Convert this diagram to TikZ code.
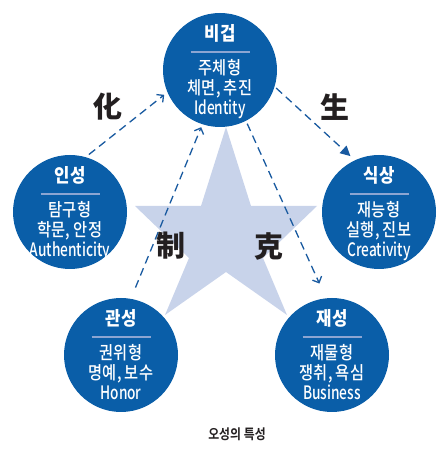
\documentclass[tikz,border=0pt]{standalone}
\usepackage{fontspec}
\setmainfont{Noto Sans CJK KR}[FakeStretch=0.85, UprightFont=* Medium, BoldFont=* Bold]
\newfontfamily\titlefont{Noto Sans CJK KR Black}[FakeStretch=0.88]
\newfontfamily\latinfont{Noto Sans CJK KR Medium}[FakeStretch=0.74]
\newfontfamily\hanjafont{Noto Sans CJK KR Black}
\usetikzlibrary{arrows.meta}

\definecolor{ohblue}{RGB}{10,94,168}
\definecolor{ohline}{RGB}{25,90,160}
\definecolor{ohstar}{RGB}{200,211,234}
\definecolor{ohsep}{RGB}{140,165,210}
\definecolor{ohdark}{RGB}{35,31,32}

\begin{document}
\begin{tikzpicture}[x=1pt, y=1pt,
    element/.style={circle, fill=ohblue, minimum size=114pt, inner sep=0pt},
    elemtitle/.style={anchor=base, text=white, inner sep=0pt, font=\fontsize{19}{19}\selectfont\titlefont},
    elemtext/.style={anchor=base, text=white, inner sep=0pt, font=\fontsize{18}{20}\selectfont},
    elemlatin/.style={elemtext, font=\fontsize{18.5}{20}\selectfont\latinfont},
    sepline/.style={draw=ohsep, line width=2.7pt},
    flow/.style={draw=ohline, line width=1.3pt, dash pattern=on 8pt off 5pt},
    openhead/.style={-{Straight Barb[length=5pt, width=10pt]}},
    fullhead/.style={-{Triangle[length=10pt, width=10pt]}},
    hanja/.style={text=ohdark, inner sep=0pt, font=\fontsize{29}{29}\selectfont\hanjafont},
    caption/.style={text=ohdark, inner sep=0pt, font=\fontsize{14}{14}\selectfont\bfseries}]
    \useasboundingbox (0,0) rectangle (447,452);

    % Star behind the circles
    \fill[ohstar] (226,325) -- (251,246) -- (317,246) -- (263,194) -- (287,137)
        -- (226,180) -- (165,137) -- (189,194) -- (135,246) -- (201,246) -- cycle;

    % Five elements
    \foreach \name/\x/\y/\title/\la/\lb/\lc in {
        bigeop/220/382/비겁/주체형/{체면, 추진}/Identity,
        inseong/70/240/인성/탐구형/{학문, 안정}/Authenticity,
        siksang/379/240/식상/재능형/{실행, 진보}/Creativity,
        gwanseong/121/97/관성/권위형/{명예, 보수}/Honor,
        jaeseong/332/97/재성/재물형/{쟁취, 욕심}/Business} {
        \node[element] (\name) at (\x,\y) {};
        \node[elemtitle] (\name-t) at ([yshift=29pt]\name.center) {\title};
        \draw[sepline] ([xshift=-29.5pt, yshift=18pt]\name.center) -- ([xshift=29.5pt, yshift=18pt]\name.center);
        \node[elemtext] (\name-a) at ([yshift=-5pt]\name.center) {\la};
        \node[elemtext] (\name-b) at ([yshift=-25pt]\name.center) {\lb};
        \node[elemlatin] (\name-c) at ([yshift=-45pt]\name.center) {\lc};
    }

    % Cycles
    \draw[flow, openhead, shorten <=4pt, shorten >=4pt] (inseong.74) -- (bigeop.203);
    \draw[flow, fullhead, shorten <=2pt, shorten >=6pt] (bigeop.343) -- (siksang.115);
    \draw[flow, openhead, shorten <=12pt, shorten >=3pt] (gwanseong.80) -- (bigeop.252);
    \draw[flow, openhead, shorten <=3pt, shorten >=16pt] (bigeop.297) -- (jaeseong.96);

    % Labels
    \node[hanja] (hwa) at (108,345) {化};
    \node[hanja] (saeng) at (335,345) {生};
    \node[hanja] (je) at (171,206) {制};
    \node[hanja] (geuk) at (269,206) {克};

    \node[caption] (caption) at (237,18) {오성의 특성};
\end{tikzpicture}
\end{document}
